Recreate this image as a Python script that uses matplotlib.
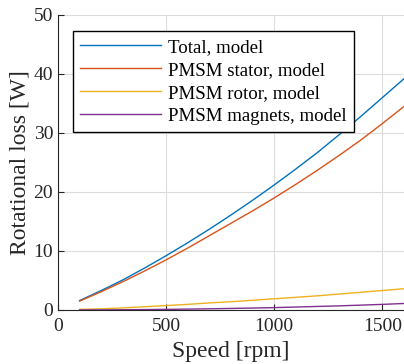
import matplotlib
matplotlib.use("Agg")
import matplotlib.pyplot as plt

speed = [100, 200, 300, 400, 500, 600, 700, 800, 900, 1000, 1100, 1200, 1300, 1400, 1500, 1600]
total = [1.6, 3.3, 5.1, 7.1, 9.2, 11.4, 13.7, 16.1, 18.6, 21.2, 23.9, 26.7, 29.7, 32.8, 36.0, 39.2]
stator = [1.5, 3.1, 4.8, 6.6, 8.5, 10.5, 12.6, 14.7, 16.8, 19.0, 21.3, 23.7, 26.2, 28.8, 31.6, 34.5]
rotor = [0.1, 0.2, 0.35, 0.55, 0.75, 0.95, 1.2, 1.4, 1.65, 1.9, 2.15, 2.4, 2.7, 3.0, 3.3, 3.6]
magnets = [0.0, 0.02, 0.04, 0.07, 0.1, 0.15, 0.2, 0.26, 0.33, 0.4, 0.5, 0.6, 0.7, 0.82, 0.95, 1.1]

labels = ["Total, model", "PMSM stator, model", "PMSM rotor, model", "PMSM magnets, model"]
colors = ["#0072BD", "#D95319", "#EDB120", "#7E2F8E"]
xticks = [0, 500, 1000, 1500]
yticks = [0, 10, 20, 30, 40, 50]

plt.rcParams['font.family'] = ['Liberation Serif', 'DejaVu Serif']
txt = '#262626'

fig = plt.figure(figsize=(4.04, 3.64), dpi=100)
ax = fig.add_axes([0.1436, 0.1484, 0.8564, 0.8104])

for y, lab, c in zip([total, stator, rotor, magnets], labels, colors):
    ax.plot(speed, y, color=c, lw=1.0, label=lab)

ax.set_xlim(0, 1600)
ax.set_ylim(0, 50)
ax.set_xticks(xticks)
ax.set_yticks(yticks)
ax.grid(True, color='#dcdcdc', lw=0.8)
ax.set_axisbelow(True)
for s in ['top', 'right']:
    ax.spines[s].set_visible(False)
for s in ['left', 'bottom']:
    ax.spines[s].set_color(txt)
    ax.spines[s].set_linewidth(0.8)
ax.tick_params(direction='in', length=4, width=0.8, colors=txt, labelsize=14, labelcolor=txt)
ax.tick_params(axis='x', pad=6)
ax.set_xlabel("Speed [rpm]", fontsize=17, color=txt, labelpad=4)
ax.set_ylabel("Rotational loss [W]", fontsize=17, color=txt, labelpad=2)

leg = ax.legend(loc='upper left', bbox_to_anchor=(0.043, 0.945), fontsize=13.6,
                frameon=True, fancybox=False, edgecolor='black', framealpha=1,
                handlelength=4.25, handletextpad=0.4, labelspacing=0.3,
                borderpad=0.4, borderaxespad=0)
leg.get_frame().set_linewidth(1.0)
for t in leg.get_texts():
    t.set_color('black')

fig.savefig("out.png", dpi=100)
